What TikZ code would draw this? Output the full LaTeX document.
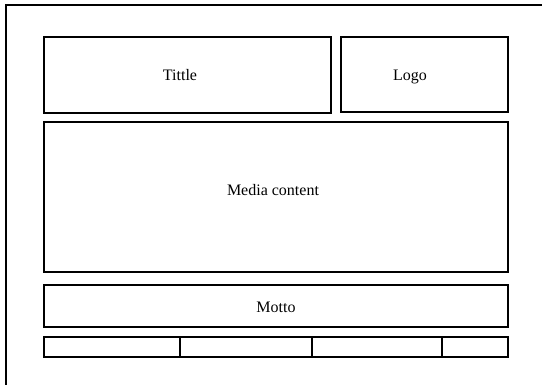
\documentclass[tikz,border=0pt]{standalone}
\usepackage{fontspec}
\setmainfont{Liberation Serif}
\usepackage{tikz}

\tikzset{
  panel/.style={draw, line width=1.5pt},
  lbl/.style={font=\fontsize{16}{18}\selectfont}
}

\begin{document}
\begin{tikzpicture}[x=1pt, y=-1pt]
        \useasboundingbox (0,0) rectangle (542,385);
        % page frame
        \draw[line width=1.5pt] (6,385) -- (6,5) -- (542,5);

        % header
        \draw[panel] (44,37) rectangle (331,113);
        \node[lbl] (tittle) at (180,75) {Tittle};
        \draw[panel] (341,37) rectangle (508,112);
        \node[lbl] (logo) at (410,77) {Logo};

        % body
        \draw[panel] (44,122) rectangle (508,272);
        \node[lbl] (media) at (273,190) {Media content};
        \draw[panel] (44,285) rectangle (508,327);
        \node[lbl] (motto) at (276,307) {Motto};

        % footer
        \draw[panel] (44,337) rectangle (508,357);
        \draw[panel] (180,337) -- (180,357);
        \draw[panel] (312,337) -- (312,357);
        \draw[panel] (442,337) -- (442,357);
    \end{tikzpicture}
\end{document}
